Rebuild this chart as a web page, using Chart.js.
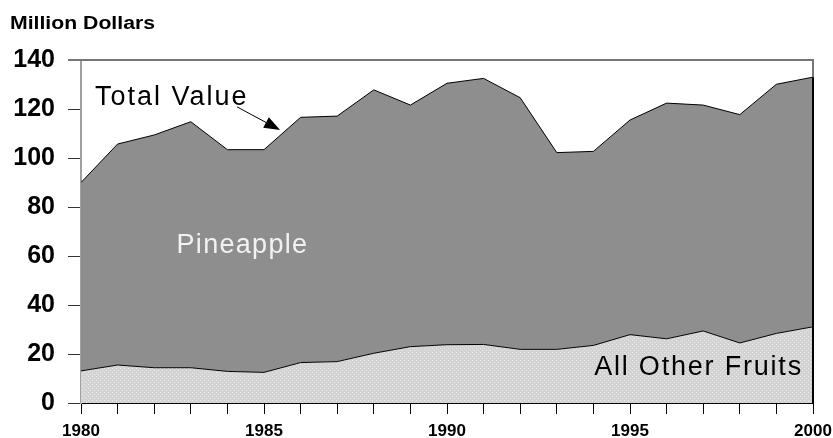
<!DOCTYPE html>
<html>
<head>
<meta charset="utf-8">
<style>
  html, body { margin: 0; padding: 0; background: #ffffff; }
  #wrap { width: 833px; height: 438px; }
</style>
<script src="https://cdn.jsdelivr.net/npm/chart.js@4/dist/chart.umd.min.js"></script>
</head>
<body>
<div id="wrap"><canvas id="c" width="833" height="438"></canvas></div>
<script>
// ---- data ----
const years = [1980,1981,1982,1983,1984,1985,1986,1987,1988,1989,1990,1991,1992,1993,1994,1995,1996,1997,1998,1999,2000];
const totalValue = [90,105.7,109.4,114.8,103.4,103.4,116.6,117.1,127.8,121.6,130.5,132.5,124.6,102.2,102.7,115.5,122.4,121.6,117.7,130.1,133];
const otherFruits = [13.1,15.5,14.4,14.4,12.9,12.5,16.5,16.9,20.3,23,23.8,23.9,21.9,21.9,23.5,27.9,26.2,29.4,24.5,28.4,31.1];
const yTickLabels = [0,20,40,60,80,100,120,140];
const xTickLabels = [1980,1985,1990,1995,2000];
const yAxisTitle = 'Million Dollars';
const labelTotal = 'Total Value';
const labelPine = 'Pineapple';
const labelOther = 'All Other Fruits';

// dotted light pattern for "All Other Fruits"
function makePattern() {
  const p = document.createElement('canvas');
  p.width = 4; p.height = 4;
  const g = p.getContext('2d');
  g.fillStyle = '#d3d3d3';
  g.fillRect(0, 0, 4, 4);
  g.fillStyle = '#eaeaea';
  g.fillRect(0, 0, 1, 1);
  g.fillRect(2, 2, 1, 1);
  return g.createPattern(p, 'repeat');
}

const ctx = document.getElementById('c').getContext('2d');

const decor = {
  id: 'decor',
  afterDraw(chart) {
    const c = chart.ctx;
    const a = chart.chartArea;
    const xs = chart.scales.x, ys = chart.scales.y;
    c.save();
    // top and right frame
    c.strokeStyle = '#767676';
    c.lineWidth = 2;
    c.beginPath();
    c.moveTo(a.left - 13, a.top);
    c.lineTo(a.right, a.top);
    c.lineTo(a.right, a.bottom);
    c.stroke();
    c.strokeStyle = '#000';
    c.beginPath();
    c.moveTo(a.right, ys.getPixelForValue(totalValue[totalValue.length - 1]));
    c.lineTo(a.right, a.bottom);
    c.stroke();

    // y axis title
    c.fillStyle = '#000';
    c.font = 'bold 18px "Liberation Sans", Arial, sans-serif';
    c.textBaseline = 'alphabetic';
    c.textAlign = 'left';
    const w = c.measureText(yAxisTitle).width;
    c.save();
    c.translate(10, 29);
    c.scale(145 / w, 1);
    c.fillText(yAxisTitle, 0, 0);
    c.restore();

    // annotations
    c.font = '27px "Liberation Sans", Arial, sans-serif';
    c.letterSpacing = '2px';
    c.fillStyle = '#000';
    c.fillText(labelTotal, xs.getPixelForValue(1980.38), ys.getPixelForValue(121.6));
    c.letterSpacing = '1.3px';
    c.fillStyle = '#f2f2f2';
    c.fillText(labelPine, xs.getPixelForValue(1982.61), ys.getPixelForValue(61.3));
    c.letterSpacing = '1.8px';
    c.fillStyle = '#000';
    c.fillText(labelOther, xs.getPixelForValue(1994.02), ys.getPixelForValue(11.4));
    c.letterSpacing = '0px';

    // arrow
    const x0 = xs.getPixelForValue(1984.26), y0 = ys.getPixelForValue(120.9);
    const x1 = xs.getPixelForValue(1985.44), y1 = ys.getPixelForValue(111.4);
    const ang = Math.atan2(y1 - y0, x1 - x0);
    const hl = 16, hw = 6;
    const bx = x1 - hl * Math.cos(ang), by = y1 - hl * Math.sin(ang);
    c.strokeStyle = '#000';
    c.lineWidth = 1;
    c.beginPath();
    c.moveTo(x0, y0);
    c.lineTo(bx, by);
    c.stroke();
    c.fillStyle = '#000';
    c.beginPath();
    c.moveTo(x1, y1);
    c.lineTo(bx + hw * Math.sin(ang), by - hw * Math.cos(ang));
    c.lineTo(bx - hw * Math.sin(ang), by + hw * Math.cos(ang));
    c.closePath();
    c.fill();
    c.restore();
  }
};

new Chart(ctx, {
  type: 'line',
  data: {
    datasets: [
      {
        label: labelOther,
        data: years.map((y, i) => ({ x: y, y: otherFruits[i] })),
        borderColor: '#000',
        borderWidth: 1,
        backgroundColor: makePattern(),
        fill: 'origin',
        pointRadius: 0,
        tension: 0
      },
      {
        label: labelPine,
        data: years.map((y, i) => ({ x: y, y: totalValue[i] })),
        borderColor: '#000',
        borderWidth: 1,
        backgroundColor: '#8e8e8e',
        fill: '-1',
        pointRadius: 0,
        tension: 0
      }
    ]
  },
  options: {
    responsive: false,
    animation: false,
    events: [],
    layout: { padding: { top: 60, right: 20, left: 0, bottom: 0 } },
    plugins: {
      legend: { display: false },
      tooltip: { enabled: false },
      title: { display: false }
    },
    scales: {
      x: {
        type: 'linear',
        min: 1980,
        max: 2000,
        afterFit(s) { s.height = 35; s.paddingLeft = 0; s.paddingRight = 0; },
        afterBuildTicks(s) { s.ticks = years.map(v => ({ value: v })); },
        ticks: {
          autoSkip: false,
          maxRotation: 0,
          padding: 7,
          color: '#000',
          font: { family: '"Liberation Sans", Arial, sans-serif', size: 17, weight: 'bold' },
          callback: (v) => xTickLabels.includes(v) ? String(v) : ''
        },
        grid: { drawOnChartArea: false, drawTicks: true, tickLength: 11, color: '#000', lineWidth: 1 },
        border: { display: true, color: '#000', width: 2 }
      },
      y: {
        type: 'linear',
        min: 0,
        max: 140,
        afterFit(s) { s.width = 81; s.paddingTop = 0; s.paddingBottom = 0; },
        ticks: {
          stepSize: 10,
          padding: 13,
          color: '#000',
          font: { family: '"Liberation Sans", Arial, sans-serif', size: 25, weight: 'bold' },
          callback: (v) => yTickLabels.includes(v) ? String(v) : ''
        },
        grid: { drawOnChartArea: false, drawTicks: true, tickLength: 13, color: '#333', lineWidth: 1 },
        border: { display: true, color: '#a0a0a0', width: 2 }
      }
    }
  },
  plugins: [decor]
});
</script>
</body>
</html>
